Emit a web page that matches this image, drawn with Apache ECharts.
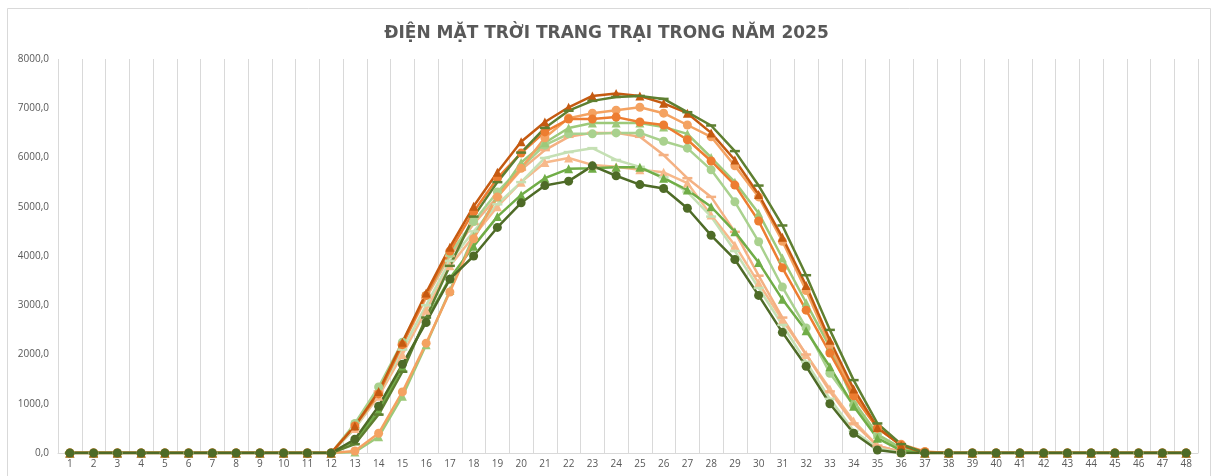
<!DOCTYPE html>
<html>
<head>
<meta charset="utf-8">
<script src="https://cdn.jsdelivr.net/npm/echarts@6/dist/echarts.min.js"></script>
<style>
	html, body{
		margin: 0;
		padding: 0;
		background: #ffffff;
	}
	#chart{
		width: 1213px;
		height: 476px;
	}
</style>
</head>
<body>
<div id="chart"></div>
<script>
	var titleText = 'ĐIỆN MẶT TRỜI TRANG TRẠI TRONG NĂM 2025';

	var hours = ['1','2','3','4','5','6','7','8','9','10','11','12','13','14','15','16','17','18','19','20','21','22','23','24',
		'25','26','27','28','29','30','31','32','33','34','35','36','37','38','39','40','41','42','43','44','45','46','47','48'];

	var yTicks = [0, 1000, 2000, 3000, 4000, 5000, 6000, 7000, 8000];

	// gia tri doc tu hinh, moi mang 48 diem
	var lightOrangeTri = [0,0,0,0,0,0,0,0,0,0,0,0,500,1150,2000,2900,3800,4400,5000,5500,5900,5990,5850,5810,
		5750,5700,5480,4830,4220,3450,2700,2000,1300,650,150,20,0,0,0,0,0,0,0,0,0,0,0,0];
	var lightOrangeDash = [0,0,0,0,0,0,0,0,0,0,0,0,500,1250,2200,3150,4000,4650,5200,5750,6150,6420,6500,6500,
		6420,6050,5580,5200,4490,3600,2750,2000,1250,600,150,20,0,0,0,0,0,0,0,0,0,0,0,0];
	var paleGreen = [0,0,0,0,0,0,0,0,0,0,0,0,500,1200,2100,3000,3900,4500,5050,5500,5990,6110,6190,5950,
		5810,5600,5300,4800,4100,3350,2600,1850,1100,450,100,0,0,0,0,0,0,0,0,0,0,0,0,0];
	var lightGreenCircle = [0,0,0,0,0,0,0,0,0,0,0,0,600,1340,2250,3200,4050,4700,5300,5800,6250,6480,6480,6500,
		6500,6330,6190,5750,5100,4290,3370,2540,1620,970,370,80,0,0,0,0,0,0,0,0,0,0,0,0];
	var lightGreenTri = [0,0,0,0,0,0,0,0,0,0,0,0,20,330,1150,2200,3300,4400,5200,5900,6300,6600,6700,6700,
		6700,6620,6480,6000,5500,4870,3960,3050,2150,1050,380,100,0,0,0,0,0,0,0,0,0,0,0,0];
	var greenTri = [0,0,0,0,0,0,0,0,0,0,0,0,250,850,1750,2700,3550,4200,4800,5240,5580,5770,5780,5800,
		5800,5580,5340,5000,4490,3870,3120,2480,1750,950,300,50,0,0,0,0,0,0,0,0,0,0,0,0];
	var midOrangeCircle = [0,0,0,0,0,0,0,0,0,0,0,0,40,400,1240,2230,3270,4350,5200,5780,6400,6800,6900,6960,
		7020,6900,6660,6420,5830,5200,4300,3300,2200,1200,500,180,30,0,0,0,0,0,0,0,0,0,0,0];
	var orangeCircle = [0,0,0,0,0,0,0,0,0,0,0,0,550,1200,2200,3200,4100,4900,5580,6090,6520,6780,6780,6820,
		6720,6660,6360,5930,5440,4710,3760,2900,2030,1160,510,160,20,0,0,0,0,0,0,0,0,0,0,0];
	var darkOrangeTri = [0,0,0,0,0,0,0,0,0,0,0,0,550,1250,2250,3250,4180,5010,5700,6320,6720,7020,7250,7300,
		7250,7100,6900,6500,5950,5250,4380,3400,2290,1300,520,150,0,0,0,0,0,0,0,0,0,0,0,0];
	var oliveDash = [0,0,0,0,0,0,0,0,0,0,0,0,180,780,1650,2750,3800,4800,5500,6100,6600,6950,7150,7230,
		7250,7190,6920,6650,6130,5430,4620,3610,2500,1480,600,180,0,0,0,0,0,0,0,0,0,0,0,0];
	var darkGreenCircle = [0,0,0,0,0,0,0,0,0,0,0,0,280,950,1800,2650,3530,4000,4580,5080,5430,5520,5830,5630,
		5450,5370,4970,4420,3930,3200,2450,1760,1000,400,60,0,0,0,0,0,0,0,0,0,0,0,0,0];

	function mkSeries(data, color, symbol, size){
		return {
			type: 'line',
			data: data,
			symbol: symbol,
			symbolSize: size,
			lineStyle: { color: color, width: 2.5 },
			itemStyle: { color: color },
			animation: false
		};
	}

	var myChart = echarts.init(document.getElementById('chart'));
	var option = {
		backgroundColor: '#ffffff',
		title: {
			text: titleText,
			left: 'center',
			top: 20,
			textStyle: {
				fontFamily: 'DejaVu Sans',
				fontSize: 17,
				fontWeight: 'bold',
				color: '#595959'
			}
		},
		graphic: [{
			type: 'rect',
			shape: { x: 7.5, y: 8.5, width: 1203, height: 480 },
			style: { fill: 'none', stroke: '#d9d9d9', lineWidth: 1 },
			silent: true
		}],
		grid: {
			left: 58,
			right: 15,
			top: 59,
			bottom: 23
		},
		xAxis: {
			type: 'category',
			data: hours,
			boundaryGap: true,
			axisLine: { lineStyle: { color: '#d9d9d9' } },
			axisTick: { show: false },
			axisLabel: { color: '#595959', fontSize: 10, fontFamily: 'Open Sans', margin: 6, interval: 0 },
			splitLine: { show: true, lineStyle: { color: '#d9d9d9', width: 1 } }
		},
		yAxis: {
			type: 'value',
			min: yTicks[0],
			max: yTicks[yTicks.length - 1],
			interval: 1000,
			axisLine: { show: false },
			axisTick: { show: false },
			splitLine: { show: false },
			axisLabel: {
				color: '#595959',
				fontSize: 10,
				fontFamily: 'Open Sans',
				margin: 9,
				formatter: function(v){ return v.toFixed(1).replace('.', ','); }
			}
		},
		series: [
			mkSeries(lightOrangeTri, '#F7B98B', 'triangle', 9),
			mkSeries(lightOrangeDash, '#F4B183', 'rect', [10, 2.5]),
			mkSeries(paleGreen, '#C5E0B4', 'rect', [10, 2.5]),
			mkSeries(lightGreenCircle, '#A9D18E', 'circle', 9),
			mkSeries(lightGreenTri, '#9DC97A', 'triangle', 9),
			mkSeries(greenTri, '#70AD47', 'triangle', 9),
			mkSeries(midOrangeCircle, '#F4A261', 'circle', 9),
			mkSeries(orangeCircle, '#ED7D31', 'circle', 9),
			mkSeries(darkOrangeTri, '#C55A11', 'triangle', 9),
			mkSeries(oliveDash, '#5E7F31', 'rect', [10, 2.5]),
			mkSeries(darkGreenCircle, '#4E6B27', 'circle', 9)
		]
	};
	option && myChart.setOption(option);
</script>
</body>
</html>
